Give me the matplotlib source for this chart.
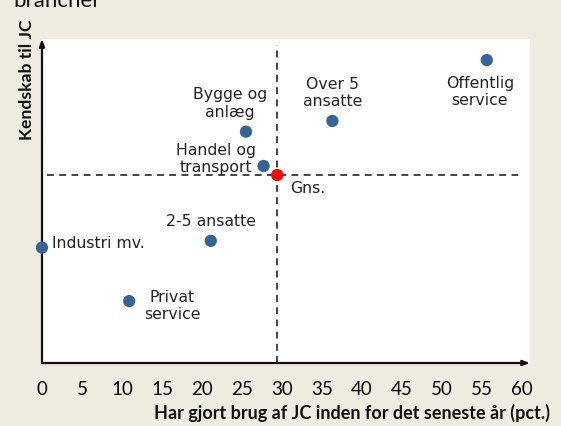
import matplotlib
matplotlib.use("Agg")
import matplotlib.pyplot as plt

# ---- data ----
categories = ["Offentlig\nservice", "Over 5\nansatte", "Bygge og\nanlæg", "Handel og\ntransport",
              "2-5 ansatte", "Industri mv.", "Privat\nservice"]
brug = [55.6, 36.3, 25.5, 27.7, 21.1, 0.0, 10.9]          # x: pct. brugt JC
kendskab = [93.5, 74.7, 71.4, 60.8, 37.7, 35.6, 19.1]     # y: kendskab (relative)
gns_label = "Gns."
gns_x = 29.4
gns_y = 58.0
xticks = list(range(0, 61, 5))

# label offsets in pixels (dx, dy) and alignment
offsets = [(-7, -32, "center"), (0, 28, "center"), (-16, 28, "center"), (-48, 7, "center"),
           (0, 19, "center"), (10, 4, "left"), (43, -5, "center")]

W, H = 561, 426
fig = plt.figure(figsize=(W / 100, H / 100), dpi=100, facecolor="#EEEBE1")
ax = fig.add_axes([42 / W, (H - 363) / H, (530 - 42) / W, (363 - 39) / H])
ax.set_facecolor("white")
ax.set_xlim(0, 61)
ax.set_ylim(0, 100)

for s in ax.spines.values():
    s.set_visible(False)

# axis arrows
arrowprops = dict(arrowstyle="-|>,head_length=0.4,head_width=0.15", color="#111111", lw=1.6,
                  shrinkA=0, shrinkB=0)
ax.annotate("", xy=(0, 1.0), xytext=(0, 0), xycoords="axes fraction", arrowprops=arrowprops,
            zorder=1)
ax.annotate("", xy=(1.0, 0), xytext=(0, 0), xycoords="axes fraction", arrowprops=arrowprops,
            zorder=1)

# average lines
ax.axvline(gns_x, ymin=0, ymax=0.98, color="#111111", lw=1.1, ls=(0, (4.5, 3.5)), zorder=2)
ax.axhline(gns_y, xmin=0.01, xmax=0.98, color="#111111", lw=1.1, ls=(0, (4.5, 3.5)), zorder=2)

ax.scatter(brug, kendskab, s=78, color="#34649A", zorder=4, clip_on=False, edgecolors="none")
ax.scatter([gns_x], [gns_y], s=78, color="#FF0000", zorder=5, clip_on=False, edgecolors="none")

for lab, x, y, (dx, dy, ha) in zip(categories, brug, kendskab, offsets):
    ax.annotate(lab, (x, y), xytext=(dx, dy), textcoords="offset pixels", ha=ha, va="center",
                fontsize=11.3, family="DejaVu Sans", color="#222222", linespacing=1.2, zorder=6)
ax.annotate(gns_label, (gns_x, gns_y), xytext=(13, -13), textcoords="offset pixels", ha="left",
            va="center", fontsize=11.3, family="DejaVu Sans", color="#222222", zorder=6)

ax.set_xticks(xticks)
ax.set_xticklabels([str(t) for t in xticks], family="Lato", fontsize=13.5)
ax.tick_params(axis="x", length=0, pad=13)
ax.set_yticks([])

fig.text(550 / W, 1 - 413 / H, "Har gjort brug af JC inden for det seneste år (pct.)",
         ha="right", va="center", family="Lato", fontweight="bold", fontsize=13, color="#111111")
fig.text(27 / W, 1 - 20 / H, "Kendskab til JC", rotation=90, ha="center", va="top",
         family="Lato", fontweight="bold", fontsize=12.6, color="#111111")
fig.text(13 / W, 1 - 7 / H, "brancher", ha="left", va="baseline", family="Lato",
         fontsize=16, color="#111111")

fig.savefig("out.png", dpi=100, facecolor=fig.get_facecolor())
